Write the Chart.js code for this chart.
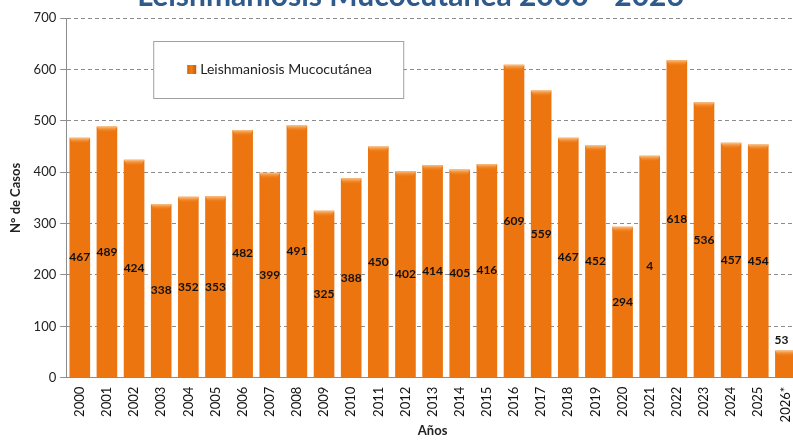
<!DOCTYPE html>
<html>
<head>
<meta charset="utf-8">
<script src="https://cdn.jsdelivr.net/npm/chart.js@4.4.1/dist/chart.umd.min.js"></script>
<style>
  html, body { margin: 0; padding: 0; background: #fff; overflow: hidden; }
  #wrap { width: 802px; height: 442px; }
</style>
</head>
<body>
<div id="wrap"><canvas id="myChart"></canvas></div>
<script>
const years = ['2000', '2001', '2002', '2003', '2004', '2005', '2006', '2007', '2008', '2009',
    '2010', '2011', '2012', '2013', '2014', '2015', '2016', '2017', '2018', '2019',
    '2020', '2021', '2022', '2023', '2024', '2025', '2026*'];
const cases = [467, 489, 424, 338, 352, 353, 482, 399, 491, 325,
    388, 450, 402, 414, 405, 416, 609, 559, 467, 452,
    294, 432, 618, 536, 457, 454, 53];
// labels as printed on the bars (2021 shows only "4" in the source)
const barLabels = ['467', '489', '424', '338', '352', '353', '482', '399', '491', '325',
    '388', '450', '402', '414', '405', '416', '609', '559', '467', '452',
    '294', '4', '618', '536', '457', '454', '53'];
const yTicks = [0, 100, 200, 300, 400, 500, 600, 700];

const SERIES_NAME = 'Leishmaniosis Mucocutánea';
const TITLE = 'Leishmaniosis Mucocutánea 2000 - 2026*';
const FONT = 'Lato, "Open Sans", sans-serif';

// horizontal gradient across each bar (dark edges, bright middle)
function barFill(context) {
    const chart = context.chart;
    const el = context.element;
    if (!el || !chart.chartArea || !el.width) return '#ec7510';
    const x0 = el.x - el.width / 2;
    const g = chart.ctx.createLinearGradient(x0, 0, x0 + el.width, 0);
    g.addColorStop(0, '#b5560a');
    g.addColorStop(0.15, '#e66f0c');
    g.addColorStop(0.5, '#f27e12');
    g.addColorStop(0.85, '#e66f0c');
    g.addColorStop(1, '#b5560a');
    return g;
}

const decor = {
    id: 'decor',
    afterDatasetsDraw(chart) {
        const { ctx } = chart;
        const meta = chart.getDatasetMeta(0);
        ctx.save();
        meta.data.forEach((bar, i) => {
            const w = bar.width;
            const x0 = bar.x - w / 2;
            // light cap on top of bar
            const cap = ctx.createLinearGradient(0, bar.y, 0, bar.y + 6);
            cap.addColorStop(0, '#fbc489');
            cap.addColorStop(1, 'rgba(242,126,18,0)');
            ctx.fillStyle = cap;
            ctx.beginPath();
            ctx.moveTo(x0, bar.y);
            ctx.lineTo(x0 + w, bar.y);
            ctx.lineTo(x0 + w - 3, bar.y + 6);
            ctx.lineTo(x0 + 3, bar.y + 6);
            ctx.closePath();
            ctx.fill();

            // value label
            ctx.fillStyle = '#111';
            ctx.font = 'bold 12px ' + FONT;
            ctx.textAlign = 'center';
            ctx.textBaseline = 'middle';
            const v = cases[i];
            const y = v < 100 ? bar.y - 10 : (bar.y + bar.base) / 2;
            ctx.fillText(barLabels[i], v < 100 ? bar.x - 4 : bar.x, y);
        });
        ctx.restore();
    },
    afterDraw(chart) {
        const { ctx, chartArea } = chart;
        ctx.save();
        // title (clipped at the top edge in the source)
        ctx.fillStyle = '#2e5b8c';
        ctx.font = 'bold 30px ' + FONT;
        ctx.textAlign = 'center';
        ctx.textBaseline = 'alphabetic';
        ctx.fillText(TITLE, 417, 6);

        // legend box
        const lx = chartArea.left + 87, ly = chartArea.top + 23;
        ctx.fillStyle = '#fff';
        ctx.fillRect(lx, ly, 250, 57);
        ctx.strokeStyle = '#a0a0a0';
        ctx.lineWidth = 1;
        ctx.strokeRect(lx + 0.5, ly + 0.5, 250, 57);
        const mg = ctx.createLinearGradient(lx + 33, 0, lx + 43, 0);
        mg.addColorStop(0, '#c15e0a');
        mg.addColorStop(0.5, '#f27e12');
        mg.addColorStop(1, '#c15e0a');
        ctx.fillStyle = mg;
        ctx.fillRect(lx + 34, ly + 24, 9, 9);
        ctx.fillStyle = '#222';
        ctx.font = '14px ' + FONT;
        ctx.textAlign = 'left';
        ctx.textBaseline = 'middle';
        ctx.fillText(SERIES_NAME, lx + 47, ly + 28);
        ctx.restore();
    }
};

const data = {
    labels: years,
    datasets: [{
        label: SERIES_NAME,
        data: cases,
        backgroundColor: barFill,
        borderWidth: 0,
        categoryPercentage: 1,
        barPercentage: 0.76,
    }]
};

const config = {
    type: 'bar',
    data: data,
    options: {
        responsive: true,
        maintainAspectRatio: false,
        animation: false,
        layout: {
            padding: { top: 18, right: 0, left: 8, bottom: 3 }
        },
        scales: {
            x: {
                grid: { display: false },
                border: { color: '#8c8c8c' },
                ticks: {
                    color: '#111',
                    font: { family: FONT, size: 13 },
                    minRotation: 90,
                    maxRotation: 90,
                    autoSkip: false,
                    padding: 1,
                },
                title: {
                    display: true,
                    text: 'Años',
                    color: '#222',
                    font: { family: FONT, size: 13, weight: 'bold' },
                    padding: { top: 0, bottom: 0 },
                }
            },
            y: {
                min: 0,
                max: 700,
                afterBuildTicks: (axis) => {
                    axis.ticks = yTicks.map(v => ({ value: v }));
                },
                grid: {
                    color: '#8c8c8c',
                    tickColor: '#8c8c8c',
                    tickLength: 6,
                    tickBorderDash: [],
                },
                border: { color: '#8c8c8c', dash: [4, 3] },
                ticks: {
                    color: '#222',
                    font: { family: FONT, size: 13 },
                    padding: 4,
                },
                title: {
                    display: true,
                    text: 'N° de Casos',
                    color: '#222',
                    font: { family: FONT, size: 13, weight: 'bold' },
                    padding: { top: 0, bottom: 6 },
                }
            }
        },
        plugins: {
            legend: { display: false },
            tooltip: { enabled: false },
        }
    },
    plugins: [decor]
};

const ctx = document.getElementById('myChart').getContext('2d');
new Chart(ctx, config);
</script>
</body>
</html>
